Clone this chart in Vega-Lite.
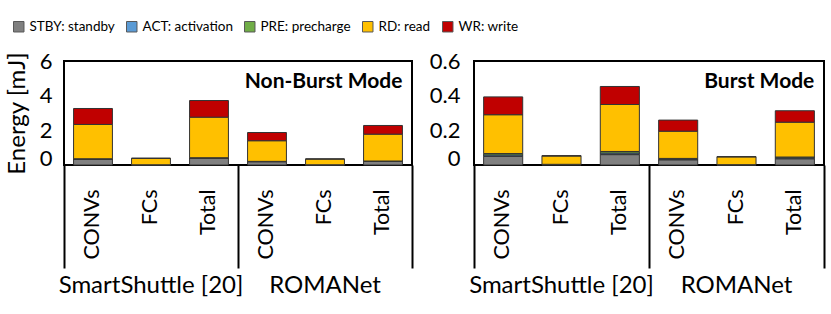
{
  "$schema": "https://vega.github.io/schema/vega-lite/v6.json",
  "padding": {"left": 4, "top": 20, "right": 5, "bottom": 5},
  "config": {
    "font": "Lato",
    "view": {"stroke": "black", "strokeWidth": 2},
    "axis": {"grid": false, "domain": false, "ticks": false, "labelColor": "black", "titleColor": "black"},
    "legend": {"orient": "none", "legendX": -52, "legendY": -41, "direction": "horizontal", "title": null, "symbolType": "square", "symbolSize": 110, "symbolStrokeColor": "#595959", "symbolStrokeWidth": 1, "labelFont": "Lato", "labelFontSize": 13.5, "labelColor": "black", "labelOffset": 4, "columnPadding": 9}
  },
  "datasets": {
    "energy": [
      {"mode": "NB", "key": "SmartShuttle [20]|CONVs", "comp": "STBY: standby", "k": 0, "value": 0.34},
      {"mode": "NB", "key": "SmartShuttle [20]|CONVs", "comp": "ACT: activation", "k": 1, "value": 0.01},
      {"mode": "NB", "key": "SmartShuttle [20]|CONVs", "comp": "PRE: precharge", "k": 2, "value": 0.01},
      {"mode": "NB", "key": "SmartShuttle [20]|CONVs", "comp": "RD: read", "k": 3, "value": 1.98},
      {"mode": "NB", "key": "SmartShuttle [20]|CONVs", "comp": "WR: write", "k": 4, "value": 0.92},
      {"mode": "NB", "key": "SmartShuttle [20]|FCs", "comp": "STBY: standby", "k": 0, "value": 0.01},
      {"mode": "NB", "key": "SmartShuttle [20]|FCs", "comp": "ACT: activation", "k": 1, "value": 0.002},
      {"mode": "NB", "key": "SmartShuttle [20]|FCs", "comp": "PRE: precharge", "k": 2, "value": 0.002},
      {"mode": "NB", "key": "SmartShuttle [20]|FCs", "comp": "RD: read", "k": 3, "value": 0.37},
      {"mode": "NB", "key": "SmartShuttle [20]|FCs", "comp": "WR: write", "k": 4, "value": 0.005},
      {"mode": "NB", "key": "SmartShuttle [20]|Total", "comp": "STBY: standby", "k": 0, "value": 0.40},
      {"mode": "NB", "key": "SmartShuttle [20]|Total", "comp": "ACT: activation", "k": 1, "value": 0.01},
      {"mode": "NB", "key": "SmartShuttle [20]|Total", "comp": "PRE: precharge", "k": 2, "value": 0.01},
      {"mode": "NB", "key": "SmartShuttle [20]|Total", "comp": "RD: read", "k": 3, "value": 2.34},
      {"mode": "NB", "key": "SmartShuttle [20]|Total", "comp": "WR: write", "k": 4, "value": 0.96},
      {"mode": "NB", "key": "ROMANet|CONVs", "comp": "STBY: standby", "k": 0, "value": 0.19},
      {"mode": "NB", "key": "ROMANet|CONVs", "comp": "ACT: activation", "k": 1, "value": 0.01},
      {"mode": "NB", "key": "ROMANet|CONVs", "comp": "PRE: precharge", "k": 2, "value": 0.01},
      {"mode": "NB", "key": "ROMANet|CONVs", "comp": "RD: read", "k": 3, "value": 1.19},
      {"mode": "NB", "key": "ROMANet|CONVs", "comp": "WR: write", "k": 4, "value": 0.475},
      {"mode": "NB", "key": "ROMANet|FCs", "comp": "STBY: standby", "k": 0, "value": 0.01},
      {"mode": "NB", "key": "ROMANet|FCs", "comp": "ACT: activation", "k": 1, "value": 0.002},
      {"mode": "NB", "key": "ROMANet|FCs", "comp": "PRE: precharge", "k": 2, "value": 0.002},
      {"mode": "NB", "key": "ROMANet|FCs", "comp": "RD: read", "k": 3, "value": 0.33},
      {"mode": "NB", "key": "ROMANet|FCs", "comp": "WR: write", "k": 4, "value": 0.005},
      {"mode": "NB", "key": "ROMANet|Total", "comp": "STBY: standby", "k": 0, "value": 0.21},
      {"mode": "NB", "key": "ROMANet|Total", "comp": "ACT: activation", "k": 1, "value": 0.01},
      {"mode": "NB", "key": "ROMANet|Total", "comp": "PRE: precharge", "k": 2, "value": 0.01},
      {"mode": "NB", "key": "ROMANet|Total", "comp": "RD: read", "k": 3, "value": 1.55},
      {"mode": "NB", "key": "ROMANet|Total", "comp": "WR: write", "k": 4, "value": 0.50},
      {"mode": "B", "key": "SmartShuttle [20]|CONVs", "comp": "STBY: standby", "k": 0, "value": 0.05},
      {"mode": "B", "key": "SmartShuttle [20]|CONVs", "comp": "ACT: activation", "k": 1, "value": 0.008},
      {"mode": "B", "key": "SmartShuttle [20]|CONVs", "comp": "PRE: precharge", "k": 2, "value": 0.008},
      {"mode": "B", "key": "SmartShuttle [20]|CONVs", "comp": "RD: read", "k": 3, "value": 0.224},
      {"mode": "B", "key": "SmartShuttle [20]|CONVs", "comp": "WR: write", "k": 4, "value": 0.103},
      {"mode": "B", "key": "SmartShuttle [20]|FCs", "comp": "STBY: standby", "k": 0, "value": 0.002},
      {"mode": "B", "key": "SmartShuttle [20]|FCs", "comp": "ACT: activation", "k": 1, "value": 0.001},
      {"mode": "B", "key": "SmartShuttle [20]|FCs", "comp": "PRE: precharge", "k": 2, "value": 0.001},
      {"mode": "B", "key": "SmartShuttle [20]|FCs", "comp": "RD: read", "k": 3, "value": 0.048},
      {"mode": "B", "key": "SmartShuttle [20]|FCs", "comp": "WR: write", "k": 4, "value": 0.002},
      {"mode": "B", "key": "SmartShuttle [20]|Total", "comp": "STBY: standby", "k": 0, "value": 0.06},
      {"mode": "B", "key": "SmartShuttle [20]|Total", "comp": "ACT: activation", "k": 1, "value": 0.009},
      {"mode": "B", "key": "SmartShuttle [20]|Total", "comp": "PRE: precharge", "k": 2, "value": 0.009},
      {"mode": "B", "key": "SmartShuttle [20]|Total", "comp": "RD: read", "k": 3, "value": 0.271},
      {"mode": "B", "key": "SmartShuttle [20]|Total", "comp": "WR: write", "k": 4, "value": 0.104},
      {"mode": "B", "key": "ROMANet|CONVs", "comp": "STBY: standby", "k": 0, "value": 0.03},
      {"mode": "B", "key": "ROMANet|CONVs", "comp": "ACT: activation", "k": 1, "value": 0.004},
      {"mode": "B", "key": "ROMANet|CONVs", "comp": "PRE: precharge", "k": 2, "value": 0.004},
      {"mode": "B", "key": "ROMANet|CONVs", "comp": "RD: read", "k": 3, "value": 0.157},
      {"mode": "B", "key": "ROMANet|CONVs", "comp": "WR: write", "k": 4, "value": 0.064},
      {"mode": "B", "key": "ROMANet|FCs", "comp": "STBY: standby", "k": 0, "value": 0.001},
      {"mode": "B", "key": "ROMANet|FCs", "comp": "ACT: activation", "k": 1, "value": 0.0005},
      {"mode": "B", "key": "ROMANet|FCs", "comp": "PRE: precharge", "k": 2, "value": 0.0005},
      {"mode": "B", "key": "ROMANet|FCs", "comp": "RD: read", "k": 3, "value": 0.045},
      {"mode": "B", "key": "ROMANet|FCs", "comp": "WR: write", "k": 4, "value": 0.001},
      {"mode": "B", "key": "ROMANet|Total", "comp": "STBY: standby", "k": 0, "value": 0.036},
      {"mode": "B", "key": "ROMANet|Total", "comp": "ACT: activation", "k": 1, "value": 0.005},
      {"mode": "B", "key": "ROMANet|Total", "comp": "PRE: precharge", "k": 2, "value": 0.005},
      {"mode": "B", "key": "ROMANet|Total", "comp": "RD: read", "k": 3, "value": 0.201},
      {"mode": "B", "key": "ROMANet|Total", "comp": "WR: write", "k": 4, "value": 0.066}
    ]
  },
  "spacing": 14,
  "resolve": {"scale": {"x": "independent", "y": "independent", "color": "shared"}},
  "hconcat": [
    {
      "width": 348,
      "height": 104,
      "data": {"name": "energy"},
      "transform": [{"filter": "datum.mode === 'NB'"}],
      "resolve": {"axis": {"x": "independent"}},
      "layer": [
        {
          "mark": {"type": "bar", "width": {"band": 0.67}, "stroke": "#333333", "strokeWidth": 1},
          "encoding": {
            "x": {"field": "key", "type": "nominal", "sort": null,
              "scale": {"domain": ["SmartShuttle [20]|CONVs", "SmartShuttle [20]|FCs", "SmartShuttle [20]|Total", "ROMANet|CONVs", "ROMANet|FCs", "ROMANet|Total"], "paddingInner": 0, "paddingOuter": 0},
              "axis": {"orient": "bottom", "title": null, "labelAngle": -90, "labelExpr": "split(datum.value, '|')[1]", "labelFontSize": 21.5, "labelPadding": 24, "ticks": false, "domain": false}},
            "y": {"field": "value", "type": "quantitative", "stack": "zero", "scale": {"domain": [0, 6], "nice": false},
              "axis": {"title": "Energy [mJ]", "titleFontSize": 24, "titleFontWeight": "normal", "titlePadding": 10, "values": [0, 2, 4, 6], "tickCount": 4, "labelFontSize": 22, "labelPadding": 12, "labelOverlap": false,
                "labelBaseline": {"condition": {"test": "datum.value === 0", "value": "alphabetic"}, "value": "middle"}}},
            "color": {"field": "comp", "type": "nominal",
              "scale": {"domain": ["STBY: standby", "ACT: activation", "PRE: precharge", "RD: read", "WR: write"], "range": ["#808080", "#5B9BD5", "#70AD47", "#FFC000", "#C00000"]}},
            "order": {"field": "k", "type": "quantitative"}
          }
        },
        {
          "mark": {"type": "rule", "opacity": 0},
          "encoding": {
            "x": {"field": "key", "type": "nominal", "sort": null,
              "axis": {"orient": "bottom", "title": null, "values": ["SmartShuttle [20]|CONVs", "SmartShuttle [20]|FCs", "SmartShuttle [20]|Total", "ROMANet|CONVs", "ROMANet|FCs", "ROMANet|Total"],
                "bandPosition": 1, "tickExtra": true, "ticks": true, "domain": false, "tickSize": 103, "tickWidth": 2, "tickColor": "black",
                "tickOpacity": {"condition": {"test": "!datum.value || indexof(datum.value, 'Total') >= 0", "value": 1}, "value": 0},
                "labelAngle": 0, "labelAlign": "center", "labelBaseline": "top", "labelPadding": 5, "labelFontSize": 24, "labelLimit": 400,
                "labelExpr": "datum.value && indexof(datum.value, 'FCs') >= 0 ? split(datum.value, '|')[0] : ''"}}
          }
        },
        {
          "data": {"values": [{"t": "Non-Burst Mode"}]},
          "mark": {"type": "text", "align": "right", "baseline": "middle", "fontWeight": "bold", "fontSize": 21, "dx": 19.5, "color": "black"},
          "encoding": {
            "x": {"datum": "ROMANet|Total", "type": "nominal", "axis": null},
            "y": {"datum": 4.8, "type": "quantitative"},
            "text": {"field": "t"}
          }
        }
      ]
    },
    {
      "width": 350,
      "height": 104,
      "data": {"name": "energy"},
      "transform": [{"filter": "datum.mode === 'B'"}],
      "resolve": {"axis": {"x": "independent"}},
      "layer": [
        {
          "mark": {"type": "bar", "width": {"band": 0.67}, "stroke": "#333333", "strokeWidth": 1},
          "encoding": {
            "x": {"field": "key", "type": "nominal", "sort": null,
              "scale": {"domain": ["SmartShuttle [20]|CONVs", "SmartShuttle [20]|FCs", "SmartShuttle [20]|Total", "ROMANet|CONVs", "ROMANet|FCs", "ROMANet|Total"], "paddingInner": 0, "paddingOuter": 0},
              "axis": {"orient": "bottom", "title": null, "labelAngle": -90, "labelExpr": "split(datum.value, '|')[1]", "labelFontSize": 21.5, "labelPadding": 24, "ticks": false, "domain": false}},
            "y": {"field": "value", "type": "quantitative", "stack": "zero", "scale": {"domain": [0, 0.6], "nice": false},
              "axis": {"title": null, "values": [0, 0.2, 0.4, 0.6], "tickCount": 4, "format": "~g", "labelFontSize": 22, "labelPadding": 14, "labelOverlap": false,
                "labelBaseline": {"condition": {"test": "datum.value === 0", "value": "alphabetic"}, "value": "middle"}}},
            "color": {"field": "comp", "type": "nominal",
              "scale": {"domain": ["STBY: standby", "ACT: activation", "PRE: precharge", "RD: read", "WR: write"], "range": ["#808080", "#5B9BD5", "#70AD47", "#FFC000", "#C00000"]}},
            "order": {"field": "k", "type": "quantitative"}
          }
        },
        {
          "mark": {"type": "rule", "opacity": 0},
          "encoding": {
            "x": {"field": "key", "type": "nominal", "sort": null,
              "axis": {"orient": "bottom", "title": null, "values": ["SmartShuttle [20]|CONVs", "SmartShuttle [20]|FCs", "SmartShuttle [20]|Total", "ROMANet|CONVs", "ROMANet|FCs", "ROMANet|Total"],
                "bandPosition": 1, "tickExtra": true, "ticks": true, "domain": false, "tickSize": 103, "tickWidth": 2, "tickColor": "black",
                "tickOpacity": {"condition": {"test": "!datum.value || indexof(datum.value, 'Total') >= 0", "value": 1}, "value": 0},
                "labelAngle": 0, "labelAlign": "center", "labelBaseline": "top", "labelPadding": 5, "labelFontSize": 24, "labelLimit": 400,
                "labelExpr": "datum.value && indexof(datum.value, 'FCs') >= 0 ? split(datum.value, '|')[0] : ''"}}
          }
        },
        {
          "data": {"values": [{"t": "Burst Mode"}]},
          "mark": {"type": "text", "align": "right", "baseline": "middle", "fontWeight": "bold", "fontSize": 21, "dx": 19.5, "color": "black"},
          "encoding": {
            "x": {"datum": "ROMANet|Total", "type": "nominal", "axis": null},
            "y": {"datum": 0.48, "type": "quantitative"},
            "text": {"field": "t"}
          }
        }
      ]
    }
  ]
}
